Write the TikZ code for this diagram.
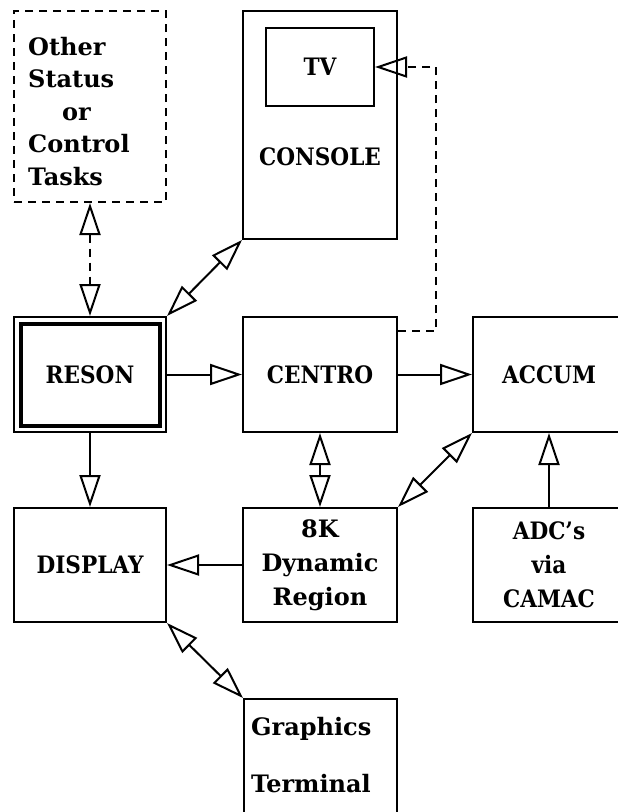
\documentclass[tikz,border=0pt]{standalone}
\usepackage{fontspec}
\setmainfont{DejaVu Serif Condensed}[BoldFont={DejaVu Serif Condensed Bold}]
\newfontfamily\widefont{DejaVu Serif}[BoldFont={DejaVu Serif Bold}]
\usetikzlibrary{arrows.meta,calc}
\begin{document}
\begin{tikzpicture}[x=1pt,y=-1pt,
  txt/.style={font=\fontsize{24}{34}\selectfont\bfseries},
  wtxt/.style={font=\widefont\fontsize{24}{#1}\selectfont\bfseries},
  blk/.style 2 args={draw, line width=2pt, rectangle, inner sep=0pt,
    minimum width=#1pt, minimum height=#2pt, align=center, txt},
  lbl/.style={inner sep=0pt, txt},
  dsh/.style={dash pattern=on 8pt off 6pt},
  conn/.style={line width=2pt},
  oneway/.style={conn, -{Triangle[open, length=32pt, width=21pt]}},
  twoway/.style={conn, {Triangle[open, length=32pt, width=21pt]}-{Triangle[open, length=32pt, width=21pt]}},
]
\useasboundingbox (0,0) rectangle (618,812);
\clip (0,0) rectangle (618,812);

% top row
\node[blk={152}{191}, dsh] (tasks) at (90,106.5) {};
\node[lbl, anchor=base west, align=left, wtxt=32.5]
  (taskstxt) at (28,185) {Other\\Status\\\hspace*{34pt}or\\Control\\Tasks};

\node[blk={154}{228}] (console) at (320,125) {};
\node[blk={108}{78}] (tv) at (320,67) {TV};
\node[lbl] (consoletxt) at (320,157) {CONSOLE};

% middle row
\node[blk={152}{115}] (reson) at (90,374.5) {RESON};
\draw[line width=3.2pt] ([shift={(8,8)}]reson.north west) rectangle ([shift={(-7,-7)}]reson.south east);
\node[blk={154}{115}] (centro) at (320,374.5) {CENTRO};
\node[blk={152}{115}] (accum) at (549,374.5) {ACCUM};

% bottom row
\node[blk={152}{114}] (display) at (90,565) {DISPLAY};
\node[blk={154}{114}, wtxt=34] (dyn) at (320,565) {8K\\Dynamic\\Region};
\node[blk={152}{114}] (adc) at (549,565) {ADC's\\via\\CAMAC};

\node[blk={153}{228}] (graphics) at (320.5,813) {};
\node[lbl, anchor=base west, align=left, wtxt=57]
  (graphicstxt) at (251,792) {Graphics\\Terminal};

% connectors
\draw[twoway, dsh] (tasks.south) -- (reson.north);
\draw[twoway] (reson.north east) -- (console.south west);
\draw[oneway, dsh] ([yshift=-15pt]centro.north east) -- ++(38,0) |- (tv.east);
\draw[oneway] (reson.east) -- (centro.west);
\draw[oneway] (centro.east) -- (accum.west);
\draw[oneway] (reson.south) -- (display.north);
\draw[twoway] (centro.south) -- (dyn.north);
\draw[twoway] (accum.south west) -- (dyn.north east);
\draw[oneway] (adc.north) -- (accum.south);
\draw[oneway] (dyn.west) -- (display.east);
\draw[twoway] (display.south east) -- (graphics.north west);
\end{tikzpicture}
\end{document}
